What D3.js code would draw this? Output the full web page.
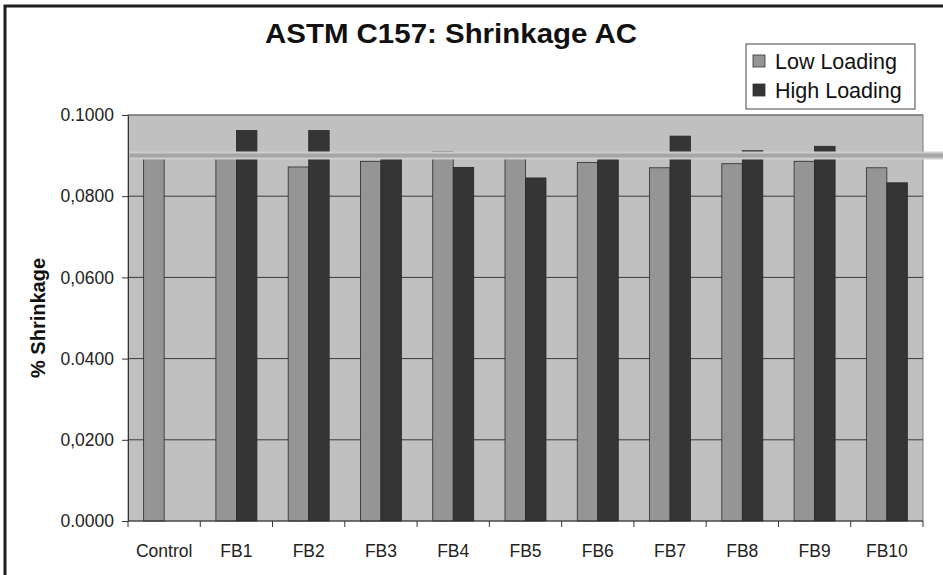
<!DOCTYPE html>
<html>
<head>
<meta charset="utf-8">
<script src="https://cdn.jsdelivr.net/npm/d3@7"></script>
<style>
  html, body { margin: 0; padding: 0; background: #fff; }
  svg { display: block; font-family: "Liberation Sans", Arial, sans-serif; }
</style>
</head>
<body>
<svg id="chart" width="943" height="575"></svg>
<script>
// ---- data ----
const categories = ["Control", "FB1", "FB2", "FB3", "FB4", "FB5", "FB6", "FB7", "FB8", "FB9", "FB10"];
const lowLoading  = [0.0900, 0.0900, 0.0872, 0.0886, 0.0909, 0.0895, 0.0883, 0.0870, 0.0880, 0.0886, 0.0870];
const highLoading = [null,   0.0962, 0.0962, 0.0895, 0.0871, 0.0845, 0.0895, 0.0948, 0.0912, 0.0923, 0.0833];
const seriesNames = ["Low Loading", "High Loading"];
const yTickValues = [0, 0.02, 0.04, 0.06, 0.08, 0.10];
const yTickLabels = ["0.0000", "0,0200", "0.0400", "0,0600", "0,0800", "0.1000"];
const referenceValue = 0.0900;
const titleText = "ASTM C157: Shrinkage AC";
const yAxisTitle = "% Shrinkage";

// ---- layout ----
const svg = d3.select("#chart");
const W = 943, H = 575;
const plot = { left: 128, right: 923, top: 115, bottom: 521 };
const colors = { low: "#959595", high: "#353535", bg: "#c0c0c0", grid: "#3a3a3a" };

// outer frame
svg.append("rect").attr("x", 5).attr("y", 6).attr("width", W + 10).attr("height", H + 10)
  .attr("fill", "#fff").attr("stroke", "#1e1e1e").attr("stroke-width", 3);

const x0 = d3.scaleBand().domain(categories).range([plot.left, plot.right]).paddingInner(0).paddingOuter(0);
const groupW = 41;
const x1 = d3.scaleBand().domain(seriesNames).range([0, groupW]).padding(0);
const y = d3.scaleLinear().domain([0, 0.1]).range([plot.bottom, plot.top]);

// plot background
svg.append("rect").attr("x", plot.left).attr("y", plot.top)
  .attr("width", plot.right - plot.left).attr("height", plot.bottom - plot.top)
  .attr("fill", colors.bg).attr("stroke", "#7a7a7a").attr("stroke-width", 1);

// gridlines
svg.append("g").selectAll("line").data(yTickValues.filter(v => v > 0)).join("line")
  .attr("x1", plot.left).attr("x2", plot.right)
  .attr("y1", d => y(d)).attr("y2", d => y(d))
  .attr("stroke", d => d === 0.1 ? "#6a6a6a" : colors.grid).attr("stroke-width", 1);

// bars
const rows = categories.map((c, i) => ({ cat: c, vals: [
  { key: "Low Loading", v: lowLoading[i] },
  { key: "High Loading", v: highLoading[i] } ] }));

const groups = svg.append("g").selectAll("g").data(rows).join("g")
  .attr("transform", d => `translate(${x0(d.cat) + x0.bandwidth() / 2 - groupW / 2},0)`);
groups.selectAll("rect").data(d => d.vals.filter(e => e.v != null)).join("rect")
  .attr("x", d => x1(d.key))
  .attr("y", d => y(d.v))
  .attr("width", x1.bandwidth())
  .attr("height", d => y(0) - y(d.v))
  .attr("fill", d => d.key === "Low Loading" ? colors.low : colors.high)
  .attr("stroke", "#2a2a2a").attr("stroke-width", 0.8);

// reference line
svg.append("line").attr("x1", plot.left + 2).attr("x2", W)
  .attr("y1", y(referenceValue)).attr("y2", y(referenceValue))
  .attr("stroke", "#cdcdcd").attr("stroke-width", 8);
svg.append("line").attr("x1", plot.left + 2).attr("x2", W)
  .attr("y1", y(referenceValue)).attr("y2", y(referenceValue))
  .attr("stroke", "#a6a6a6").attr("stroke-width", 4);

// y axis
const yAxis = d3.axisLeft(y).tickValues(yTickValues)
  .tickFormat((d, i) => yTickLabels[i]).tickSize(6).tickSizeOuter(0).tickPadding(8);
const gy = svg.append("g").attr("transform", `translate(${plot.left},0)`).call(yAxis);
gy.select(".domain").attr("stroke", "#333");
gy.selectAll(".tick line").attr("stroke", "#333");
gy.selectAll(".tick text").attr("font-size", 17.5).attr("fill", "#222")
  .attr("font-family", "Liberation Sans, Arial, sans-serif");

// x axis
const gx = svg.append("g").attr("transform", `translate(0,${plot.bottom})`);
gx.append("line").attr("x1", plot.left).attr("x2", plot.right).attr("y1", 0).attr("y2", 0).attr("stroke", "#333");
const boundaries = categories.map(c => x0(c)).concat([plot.right]);
gx.selectAll("line.tk").data(boundaries).join("line").attr("class", "tk")
  .attr("x1", d => d).attr("x2", d => d).attr("y1", 0).attr("y2", 6).attr("stroke", "#333");
gx.selectAll("text").data(categories).join("text")
  .attr("x", d => x0(d) + x0.bandwidth() / 2).attr("y", 36)
  .attr("text-anchor", "middle").attr("font-size", 17.5).attr("fill", "#222")
  .text(d => d);

// title
svg.append("text").attr("x", 451).attr("y", 43).attr("text-anchor", "middle")
  .attr("font-size", 27).attr("font-weight", "bold").attr("fill", "#111")
  .attr("textLength", 372).attr("lengthAdjust", "spacingAndGlyphs").text(titleText);

// y-axis title
svg.append("text").attr("transform", "translate(45,318) rotate(-90)")
  .attr("text-anchor", "middle").attr("font-size", 20).attr("font-weight", "bold")
  .attr("fill", "#111").text(yAxisTitle);

// legend
const lg = svg.append("g");
lg.append("rect").attr("x", 746).attr("y", 44).attr("width", 169).attr("height", 65)
  .attr("fill", "#fff").attr("stroke", "#444").attr("stroke-width", 1);
const legendItems = seriesNames.map((n, i) => ({ name: n, color: i === 0 ? colors.low : colors.high }));
const li = lg.selectAll("g").data(legendItems).join("g")
  .attr("transform", (d, i) => `translate(753,${62 + i * 29})`);
li.append("rect").attr("x", 0).attr("y", -7).attr("width", 12).attr("height", 12)
  .attr("fill", d => d.color).attr("stroke", "#333").attr("stroke-width", 0.8);
li.append("text").attr("x", 22).attr("y", 7).attr("font-size", 21.5).attr("fill", "#111")
  .text(d => d.name);
</script>
</body>
</html>
